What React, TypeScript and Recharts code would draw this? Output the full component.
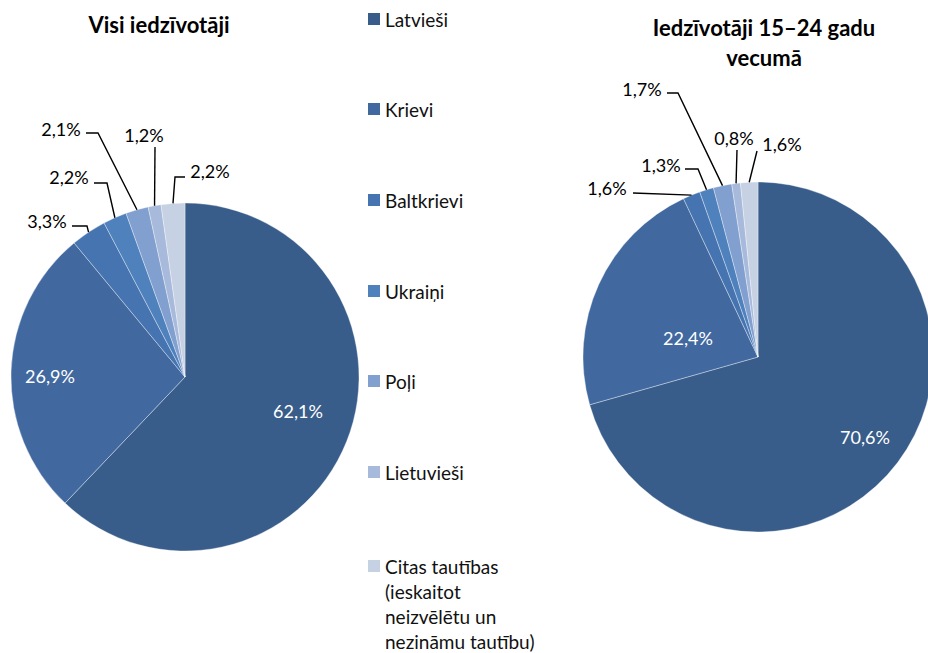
import { PieChart, Pie, Cell } from "recharts"

// categories and values
const CATEGORIES = [
  "Latvieši",
  "Krievi",
  "Baltkrievi",
  "Ukraiņi",
  "Poļi",
  "Lietuvieši",
  "Citas tautības (ieskaitot neizvēlētu un nezināmu tautību)",
]
const LEGEND_LINES = [
  ["Latvieši"],
  ["Krievi"],
  ["Baltkrievi"],
  ["Ukraiņi"],
  ["Poļi"],
  ["Lietuvieši"],
  ["Citas tautības", "(ieskaitot", "neizvēlētu un", "nezināmu tautību)"],
]
const ALL_VALUES = [62.1, 26.9, 3.3, 2.2, 2.1, 1.2, 2.2]
const YOUTH_VALUES = [70.6, 22.4, 1.6, 1.3, 1.7, 0.8, 1.6]

const TITLE_ALL = "Visi iedzīvotāji"
const TITLE_YOUTH = ["Iedzīvotāji 15–24 gadu", "vecumā"]

const COLORS = ["#385d8a", "#4169a0", "#4674b0", "#4f81bd", "#819fcf", "#a8badb", "#c6d1e4"]

const FONT = "Lato, 'Open Sans', sans-serif"
const RAD = Math.PI / 180

// label placement, relative to pie centre
type LabelPos = {
  inside?: boolean
  text: [number, number]
  elbow?: [number, number]
  end?: [number, number]
}

const LEFT_LABELS: LabelPos[] = [
  { inside: true, text: [113, 34] },
  { inside: true, text: [-135, -1] },
  { elbow: [-98, -151], end: [-113, -151], text: [-138, -156] },
  { elbow: [-78, -194], end: [-91, -194], text: [-116, -200] },
  { elbow: [-87, -244], end: [-99, -244], text: [-124, -248] },
  { elbow: [-30, -230], end: [-30, -230], text: [-41, -242] },
  { elbow: [-10, -200], end: [0, -200], text: [25, -206] },
]

const RIGHT_LABELS: LabelPos[] = [
  { inside: true, text: [107, 80] },
  { inside: true, text: [-70, -19] },
  { elbow: [-125, -164], end: [-125, -164], text: [-151, -169] },
  { elbow: [-60, -188], end: [-73, -188], text: [-97, -192] },
  { elbow: [-80, -264], end: [-91, -264], text: [-116, -268] },
  { elbow: [-21, -207], end: [-21, -207], text: [-24, -219] },
  { elbow: [-1, -206], end: [-1, -206], text: [24, -213] },
]

const fmt = (v: number) => v.toFixed(1).replace(".", ",") + "%"

const makeLabel = (layout: LabelPos[]) => (props: any) => {
  const { cx, cy, midAngle, outerRadius, index, value } = props
  const l = layout[index]
  if (!l) return null
  if (l.inside) {
    return (
      <text
        x={cx + l.text[0]}
        y={cy + l.text[1]}
        fill="#ffffff"
        textAnchor="middle"
        dominantBaseline="central"
        fontSize={18}
        fontFamily={FONT}
      >
        {fmt(value)}
      </text>
    )
  }
  const sx = cx + outerRadius * Math.cos(-midAngle * RAD)
  const sy = cy + outerRadius * Math.sin(-midAngle * RAD)
  const e = l.elbow!
  const h = l.end!
  return (
    <g>
      <polyline
        points={`${sx},${sy} ${cx + e[0]},${cy + e[1]} ${cx + h[0]},${cy + h[1]}`}
        fill="none"
        stroke="#000"
        strokeWidth={1.4}
      />
      <text
        x={cx + l.text[0]}
        y={cy + l.text[1]}
        fill="#000"
        textAnchor="middle"
        dominantBaseline="central"
        fontSize={18}
        fontFamily={FONT}
      >
        {fmt(value)}
      </text>
    </g>
  )
}

const allData = CATEGORIES.map((name, i) => ({ name, value: ALL_VALUES[i] }))
const youthData = CATEGORIES.map((name, i) => ({ name, value: YOUTH_VALUES[i] }))

const LEGEND_Y = [20, 110, 201, 292, 382, 473, 567]

export default function App() {
  return (
    <div
      style={{
        position: "absolute",
        left: 0,
        top: 0,
        width: 928,
        height: 653,
        overflow: "hidden",
        background: "#fff",
        fontFamily: FONT,
      }}
    >
      <PieChart
        width={928}
        height={653}
        margin={{ top: 0, right: 0, bottom: 0, left: 0 }}
        style={{ position: "absolute", left: 0, top: 0 }}
      >
        <Pie
          data={allData}
          dataKey="value"
          cx={185}
          cy={377}
          outerRadius={174}
          startAngle={90}
          endAngle={-270}
          stroke="#ffffff"
          strokeOpacity={0.35}
          strokeWidth={1}
          label={makeLabel(LEFT_LABELS)}
          labelLine={false}
          isAnimationActive={false}
        >
          {allData.map((d, i) => (
            <Cell key={d.name} fill={COLORS[i]} />
          ))}
        </Pie>
        <Pie
          data={youthData}
          dataKey="value"
          cx={758}
          cy={357}
          outerRadius={175}
          startAngle={90}
          endAngle={-270}
          stroke="#ffffff"
          strokeOpacity={0.35}
          strokeWidth={1}
          label={makeLabel(RIGHT_LABELS)}
          labelLine={false}
          isAnimationActive={false}
        >
          {youthData.map((d, i) => (
            <Cell key={d.name} fill={COLORS[i]} />
          ))}
        </Pie>
      </PieChart>

      {/* titles */}
      <div
        style={{
          position: "absolute",
          left: 39,
          width: 240,
          top: 10,
          textAlign: "center",
          fontWeight: 700,
          fontSize: 22,
          lineHeight: "30px",
        }}
      >
        {TITLE_ALL}
      </div>
      <div
        style={{
          position: "absolute",
          left: 614,
          width: 300,
          top: 13,
          textAlign: "center",
          fontWeight: 700,
          fontSize: 22,
          lineHeight: "30px",
        }}
      >
        {TITLE_YOUTH[0]}
        <br />
        {TITLE_YOUTH[1]}
      </div>

      {/* legend */}
      {LEGEND_LINES.map((lines, i) => (
        <div
          key={i}
          style={{
            position: "absolute",
            left: 368,
            top: LEGEND_Y[i] - 13,
            display: "flex",
            alignItems: "flex-start",
            fontSize: 19,
            lineHeight: "25px",
            color: "#111",
          }}
        >
          <span
            style={{
              width: 12,
              height: 12,
              marginTop: 6,
              marginRight: 5,
              background: COLORS[i],
              flexShrink: 0,
            }}
          />
          <span>
            {lines.map((t, j) => (
              <div key={j}>{t}</div>
            ))}
          </span>
        </div>
      ))}
    </div>
  )
}
